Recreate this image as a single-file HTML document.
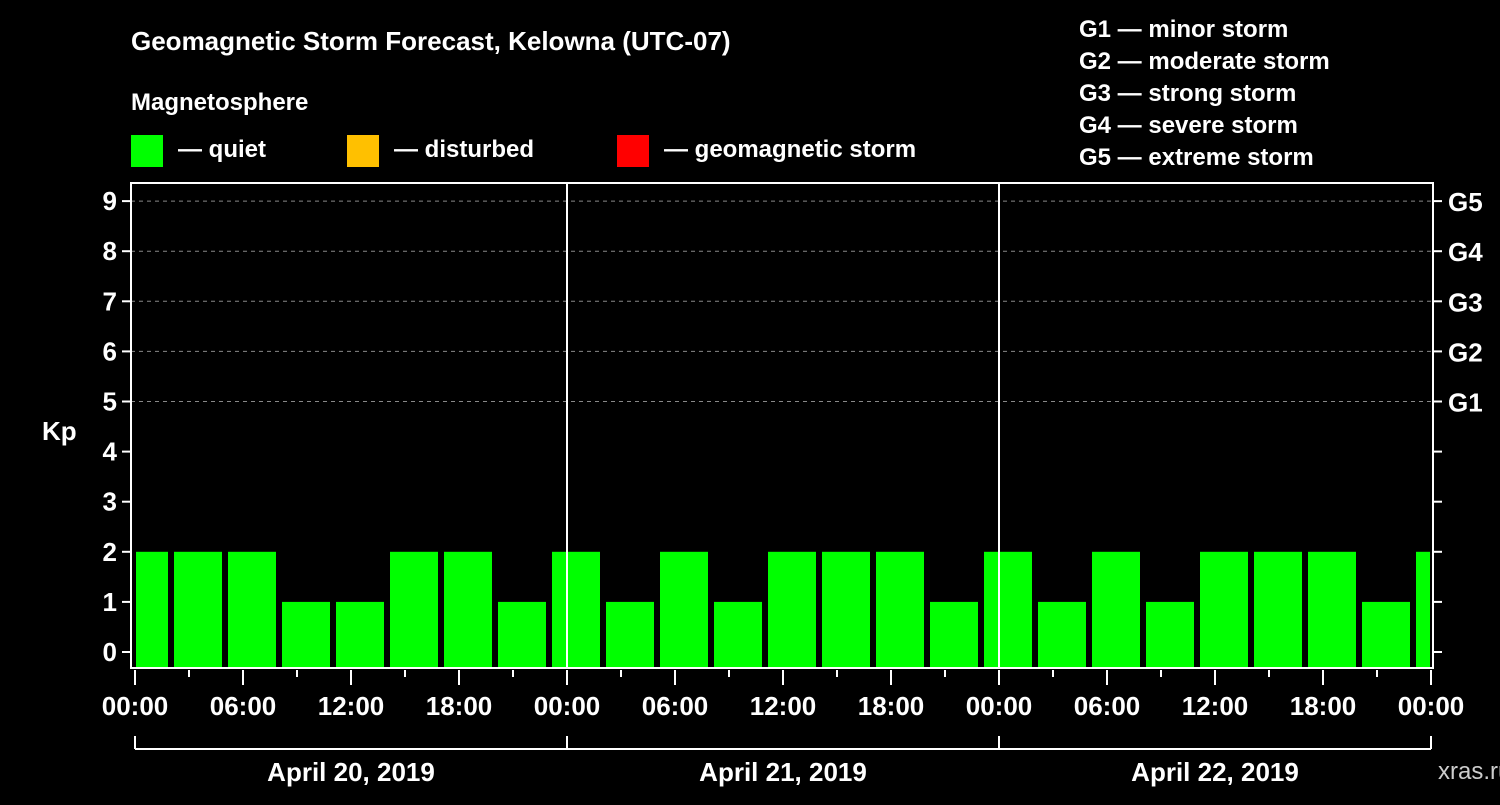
<!DOCTYPE html>
<html><head><meta charset="utf-8"><style>
body{margin:0;background:#000;width:1500px;height:800px;overflow:hidden}
svg text{font-family:"Liberation Sans",sans-serif;font-weight:bold;fill:#fff}
</style></head><body>
<svg id="c" width="1500" height="800" xmlns="http://www.w3.org/2000/svg">
<rect width="1500" height="800" fill="#000"/>
<text x="131" y="50" font-size="26">Geomagnetic Storm Forecast, Kelowna (UTC-07)</text>
<text x="131" y="110" font-size="24">Magnetosphere</text>
<g><rect x="131" y="135" width="32" height="32" fill="#00ff00"/><text x="178" y="157" font-size="24">— quiet</text></g>
<g><rect x="347" y="135" width="32" height="32" fill="#ffc000"/><text x="394" y="157" font-size="24">— disturbed</text></g>
<g><rect x="617" y="135" width="32" height="32" fill="#ff0000"/><text x="664" y="157" font-size="24">— geomagnetic storm</text></g>
<g font-size="24">
<text x="1079" y="37">G1 — minor storm</text>
<text x="1079" y="69">G2 — moderate storm</text>
<text x="1079" y="101">G3 — strong storm</text>
<text x="1079" y="133">G4 — severe storm</text>
<text x="1079" y="165">G5 — extreme storm</text>
</g>
<text x="42" y="440" font-size="26">Kp</text>
<text x="1438" y="779" font-size="24" fill="#ccc" style="fill:#ccc;font-weight:normal">xras.ru</text>
<g id="grid"></g><g id="bars"></g><g id="axes"></g>
</svg>
<script>
const kpValues=[2,2,2,1,1,2,2,1,2,1,2,1,2,2,2,1,2,1,2,1,2,2,2,1,2];
const intervalStartHours=[-1,2,5,8,11,14,17,20,23,26,29,32,35,38,41,44,47,50,53,56,59,62,65,68,71];
const yTicks=[0,1,2,3,4,5,6,7,8,9];
const gLabels=[[5,"G1"],[6,"G2"],[7,"G3"],[8,"G4"],[9,"G5"]];
const xTickLabels=["00:00","06:00","12:00","18:00","00:00","06:00","12:00","18:00","00:00","06:00","12:00","18:00","00:00"];
const dates=["April 20, 2019","April 21, 2019","April 22, 2019"];
const NS="http://www.w3.org/2000/svg";
const L=131,R=1433,T=183,B=668;
const x=h=>135+18*h, y=v=>652-50.1*v;
function mk(tag,attrs,parent,txt){const e=document.createElementNS(NS,tag);for(const k in attrs)e.setAttribute(k,attrs[k]);if(txt!=null)e.textContent=txt;document.getElementById(parent).appendChild(e);return e;}
// grid
[5,6,7,8,9].forEach(v=>{const e=mk('line',{x1:L,x2:R,y1:y(v),y2:y(v),stroke:'#888','stroke-dasharray':'4,4','stroke-width':1},'grid');

});
// bars
kpValues.forEach((v,i)=>{const s=intervalStartHours[i];let x0=Math.max(x(s)+3,L+5),x1=Math.min(x(s+3)-3,R-3);
const c=v>=5?'#ff0000':(v>=4?'#ffc000':'#00ff00');
const e=mk('rect',{x:x0,y:y(v),width:x1-x0,height:B-1-y(v),fill:c},'bars');

});
// day separators
[1,2].forEach(d=>{const e=mk('line',{x1:x(24*d),x2:x(24*d),y1:T,y2:B,stroke:'#fff','stroke-width':2},'axes');

});
// frame
const f=mk('rect',{x:L,y:T,width:R-L,height:B-T,fill:'none',stroke:'#fff','stroke-width':2},'axes');


yTicks.forEach(v=>{mk('line',{x1:L-9,x2:L,y1:y(v),y2:y(v),stroke:'#fff','stroke-width':2},'axes');
mk('line',{x1:R,x2:R+9,y1:y(v),y2:y(v),stroke:'#fff','stroke-width':2},'axes');
const t=mk('text',{x:L-14,y:y(v)+9,'font-size':26,'text-anchor':'end'},'axes',v);

});
gLabels.forEach(([v,g])=>{const t=mk('text',{x:1448,y:y(v)+10,'font-size':26},'axes',g);

});
for(let h=0;h<=72;h+=3){const major=h%6===0;mk('line',{x1:x(h),x2:x(h),y1:B+2,y2:B+(major?17:9),stroke:'#fff','stroke-width':2},'axes');}
xTickLabels.forEach((s,i)=>{const t=mk('text',{x:x(6*i),y:715,'font-size':26,'text-anchor':'middle'},'axes',s);

});
mk('line',{x1:x(0),x2:x(72),y1:749,y2:749,stroke:'#fff','stroke-width':2},'axes');
[0,1,2,3].forEach(d=>mk('line',{x1:x(24*d),x2:x(24*d),y1:736,y2:749,stroke:'#fff','stroke-width':2},'axes'));
dates.forEach((s,i)=>{const t=mk('text',{x:x(24*i+12),y:781,'font-size':26,'text-anchor':'middle'},'axes',s);

});
</script>
</body></html>
